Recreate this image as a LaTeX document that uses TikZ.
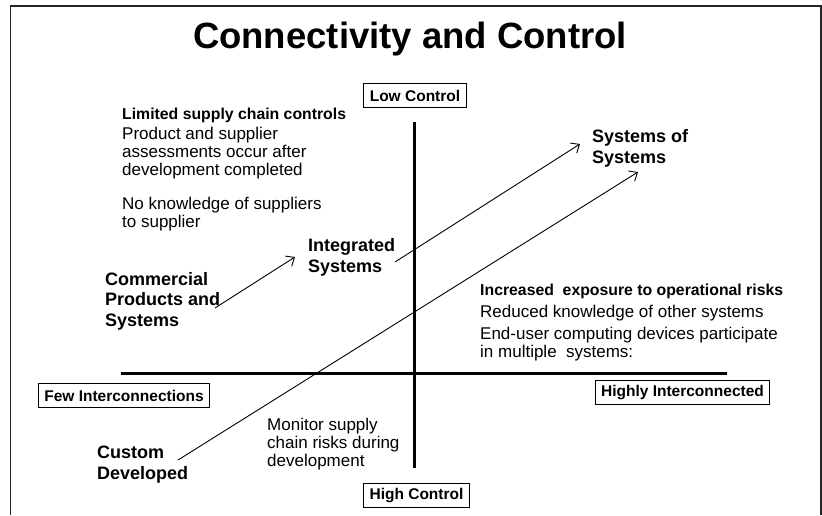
\documentclass[tikz,border=0pt]{standalone}
\usepackage{fontspec}
\setmainfont{Liberation Sans}
\usetikzlibrary{arrows.meta}
\newcommand\hdfont{\fontsize{15.8}{18}\selectfont\bfseries}
\begin{document}
\begin{tikzpicture}[x=1pt,y=-1pt,
  frameline/.style={line width=1.5pt, draw=black!85},
  axis/.style={line width=3pt},
  tag/.style={draw, line width=0.8pt, inner xsep=6pt, inner ysep=0pt, minimum height=24pt,
    font=\fontsize{15.5}{18}\selectfont\bfseries},
  big/.style={align=left, inner sep=0pt, anchor=base west,
    font=\fontsize{18}{20.5}\selectfont\bfseries},
  note/.style={align=left, inner sep=0pt, anchor=base west,
    font=\fontsize{17}{18}\selectfont},
  conn/.style={line width=0.9pt, -{Straight Barb[length=7pt,width=12pt]}}]
\useasboundingbox (0,0) rectangle (822,515);
% frame
\coordinate (fbl) at (10.5,515);
\coordinate (ftl) at (10.5,6);
\coordinate (ftr) at (821,6);
\coordinate (fbr) at (821,515);
\draw[frameline] (fbl) -- (ftl) -- (ftr) -- (fbr);
% title
\node[anchor=base, inner sep=0pt, font=\fontsize{36.5}{40}\selectfont\bfseries] (title) at (410,48) {Connectivity and Control};
% axes
\coordinate (vt) at (414,122);
\coordinate (vb) at (414,468);
\coordinate (hl) at (121,373);
\coordinate (hr) at (727,373);
\draw[axis] (vt) -- (vb);
\draw[axis] (hl) -- (hr);
% axis tags
\node[tag] (low) at (415,95.5) {Low Control};
\node[tag] (high) at (416.5,495.5) {High Control};
\node[tag] (few) at (124,395.5) {Few Interconnections};
\node[tag] (highly) at (682.5,392.5) {Highly Interconnected};
% notes (anchor = baseline of the last line)
\node[note] (limited) at (122,227) {{\hdfont Limited supply chain controls}\\[2pt]
  Product and supplier\\ assessments occur after\\ development completed\\[16pt]
  No knowledge of suppliers\\ to supplier};
\node[note] (increased) at (480,357) {{\hdfont Increased\ \ exposure to operational risks}\\[4pt]
  Reduced knowledge of other systems\\[4pt]
  End-user computing devices participate\\ in multiple\ \ systems:};
\node[note] (monitor) at (267,466) {Monitor supply\\ chain risks during\\ development};
% stage labels
\node[big] (integrated) at (308,272) {Integrated\\ Systems};
\node[big] (commercial) at (105,326) {Commercial\\ Products and\\ Systems};
\node[big] (sos) at (592,163) {Systems of\\ Systems};
\node[big] (custom) at (97,479) {Custom\\ Developed};
% connectors
\coordinate (c1s) at (215,308);
\coordinate (c1e) at (295,257);
\coordinate (c2s) at (395,262);
\coordinate (c2e) at (580,144);
\coordinate (c3s) at (178,460);
\coordinate (c3e) at (638,172);
\draw[conn] (c1s) -- (c1e);
\draw[conn] (c2s) -- (c2e);
\draw[conn] (c3s) -- (c3e);
\end{tikzpicture}
\end{document}
